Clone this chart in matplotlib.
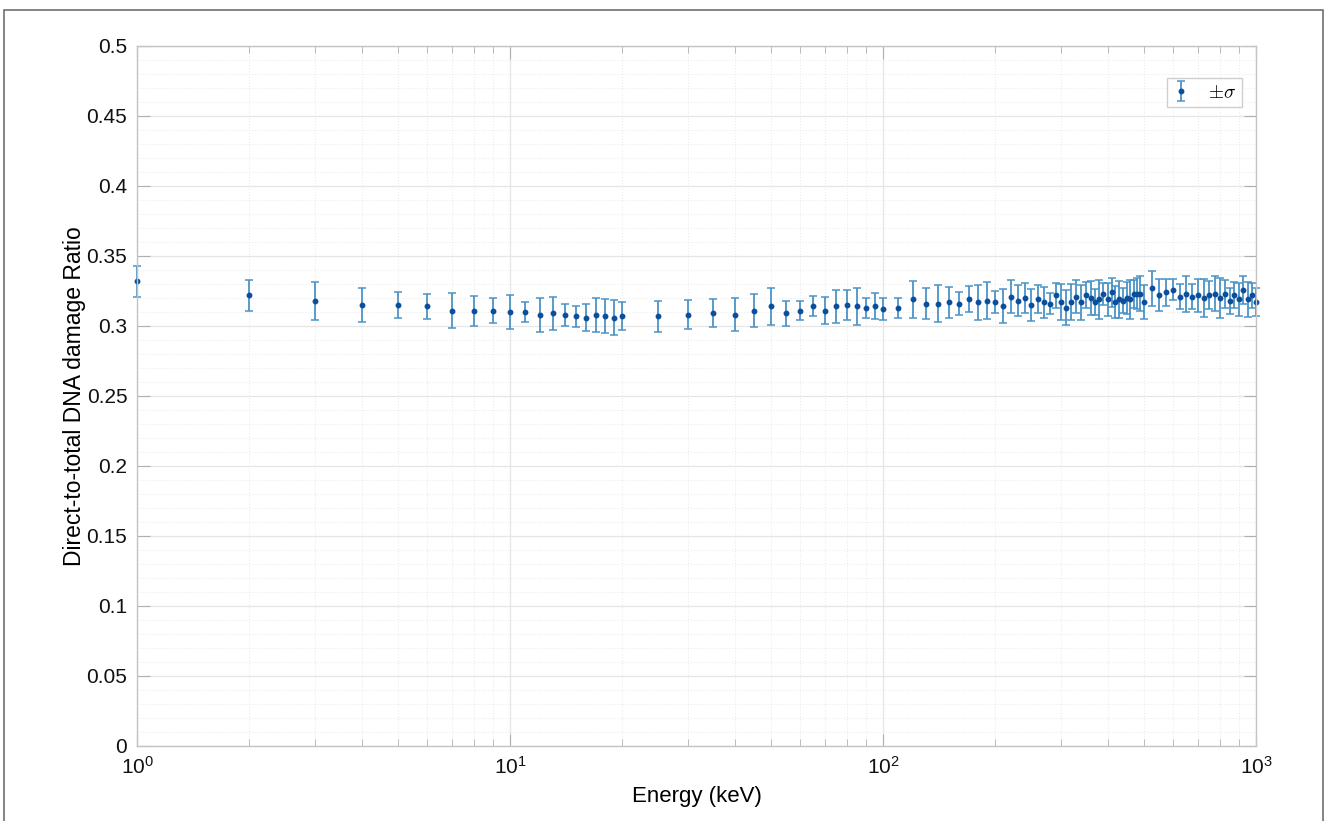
import matplotlib.pyplot as plt
import matplotlib.patches as patches
from matplotlib.ticker import FuncFormatter, MultipleLocator, LogLocator
from matplotlib.font_manager import FontProperties

plt.rcParams['font.family'] = ['Liberation Sans', 'DejaVu Sans']
plt.rcParams['mathtext.fontset'] = 'custom'
plt.rcParams['mathtext.rm'] = 'Liberation Sans'
plt.rcParams['mathtext.it'] = 'Liberation Sans:italic'

# energies (keV)
energy = ([1, 2, 3, 4, 5, 6, 7, 8, 9, 10, 11, 12, 13, 14, 15, 16, 17, 18, 19, 20,
           25, 30, 35, 40, 45, 50, 55, 60, 65, 70, 75, 80, 85, 90, 95, 100,
           110, 120, 130, 140, 150, 160, 170, 180, 190, 200,
           210, 220, 230, 240, 250, 260, 270, 280, 290, 300,
           310, 320, 330, 340, 350, 360, 370, 380, 390, 400,
           410, 420, 430, 440, 450, 460, 470, 480, 490, 500,
           525, 550, 575, 600, 625, 650, 675, 700, 725, 750,
           775, 800, 825, 850, 875, 900, 925, 950, 975, 1000])

ratio = ([0.332, 0.322, 0.318, 0.315, 0.315, 0.314, 0.311, 0.311, 0.311, 0.310,
          0.310, 0.308, 0.309, 0.308, 0.307, 0.306, 0.308, 0.307, 0.306, 0.307,
          0.307, 0.308, 0.309, 0.308, 0.311, 0.314, 0.309, 0.311, 0.314, 0.311,
          0.314, 0.315, 0.314, 0.313, 0.314, 0.312,
          0.313, 0.319, 0.316, 0.316, 0.317, 0.316, 0.319, 0.317, 0.318, 0.317,
          0.314, 0.321, 0.318, 0.320, 0.315, 0.319, 0.317, 0.316, 0.322, 0.317,
          0.313, 0.317, 0.321, 0.317, 0.322, 0.320, 0.317, 0.319, 0.323, 0.319,
          0.324, 0.317, 0.319, 0.318, 0.320, 0.319, 0.323, 0.323, 0.323, 0.317,
          0.327, 0.322, 0.324, 0.326, 0.321, 0.323, 0.321, 0.322, 0.320, 0.322,
          0.323, 0.320, 0.323, 0.318, 0.322, 0.319, 0.326, 0.319, 0.322, 0.317])

sigma = ([0.011, 0.011, 0.0135, 0.012, 0.009, 0.0087, 0.0124, 0.0107, 0.0089, 0.0122,
          0.007, 0.012, 0.012, 0.008, 0.0076, 0.0098, 0.012, 0.012, 0.0127, 0.0098,
          0.011, 0.0102, 0.010, 0.0117, 0.0118, 0.0133, 0.0088, 0.007, 0.0072, 0.0095,
          0.0117, 0.0106, 0.013, 0.007, 0.0093, 0.0077,
          0.0072, 0.013, 0.011, 0.0135, 0.011, 0.0082, 0.0093, 0.0125, 0.0132, 0.0078,
          0.0122, 0.0115, 0.011, 0.011, 0.0117, 0.010, 0.011, 0.0073, 0.009, 0.013,
          0.0125, 0.013, 0.012, 0.0125, 0.0095, 0.012, 0.0095, 0.014, 0.008, 0.012,
          0.0106, 0.0113, 0.013, 0.009, 0.0115, 0.0137, 0.010, 0.011, 0.0125, 0.012,
          0.0126, 0.0115, 0.0095, 0.0074, 0.0087, 0.013, 0.009, 0.0118, 0.0137, 0.010,
          0.0124, 0.014, 0.010, 0.0093, 0.0095, 0.0117, 0.010, 0.0125, 0.009, 0.0098])

fig = plt.figure(figsize=(13.28, 8.21), dpi=100)
ax = fig.add_axes([0.1032, 0.0914, 0.8426, 0.8526])

eb = ax.errorbar(energy, ratio, yerr=sigma, fmt='o', ms=3.2, mfc='#0b4f9c', mec='#0b4f9c',
                 ecolor='#4b93c6', elinewidth=1.3, capsize=3, capthick=1.1, label=r'$\pm\sigma$')
# the end points at 1 and 1000 keV sit on the axes edges and are drawn in full
data_line, caps, bars = eb.lines
for art in [data_line, *caps, *bars]:
    art.set_clip_on(False)

ax.set_xscale('log')
ax.set_xlim(1, 1000)
ax.set_ylim(0, 0.5)
ax.yaxis.set_major_locator(MultipleLocator(0.05))
ax.yaxis.set_minor_locator(MultipleLocator(0.01))
ax.yaxis.set_major_formatter(FuncFormatter(lambda v, p: '%g' % round(v, 3)))
ax.xaxis.set_major_locator(LogLocator(base=10))
ax.xaxis.set_minor_locator(LogLocator(base=10, subs=range(2, 10)))

ax.grid(True, which='major', color='#e6e6e6', lw=0.9)
ax.grid(True, which='minor', color='#ececec', lw=0.8, ls=':')
ax.set_axisbelow(True)

for s in ax.spines.values():
    s.set_color('#c4c4c4')
    s.set_linewidth(1.0)
ax.tick_params(which='both', direction='in', top=True, right=True, color='#b0b0b0',
               labelsize=15, labelcolor='#111111', pad=7)
ax.tick_params(which='major', length=9)
ax.tick_params(which='minor', length=5)
ax.tick_params(axis='y', which='minor', length=0)

ax.set_xlabel('Energy (keV)', fontsize=16, labelpad=6)
ax.set_ylabel('Direct-to-total DNA damage Ratio', fontsize=16.5, labelpad=0)

leg = ax.legend(loc='upper right', bbox_to_anchor=(0.9875, 0.954), borderaxespad=0,
                frameon=True, fancybox=False, edgecolor='#c4c4c4', handlelength=0.8,
                handletextpad=1.0, borderpad=0.3,
                prop=FontProperties(family='Liberation Serif', size=14, math_fontfamily='cm'))
leg.get_frame().set_linewidth(1.0)

# outer frame of the figure image
fig.patches.append(patches.Rectangle((4 / 1328, -0.01), 1319 / 1328, 1 - 10 / 821 + 0.01,
                                     transform=fig.transFigure, fill=False,
                                     edgecolor='#707070', lw=1.2))

fig.savefig('out.png', dpi=100)
